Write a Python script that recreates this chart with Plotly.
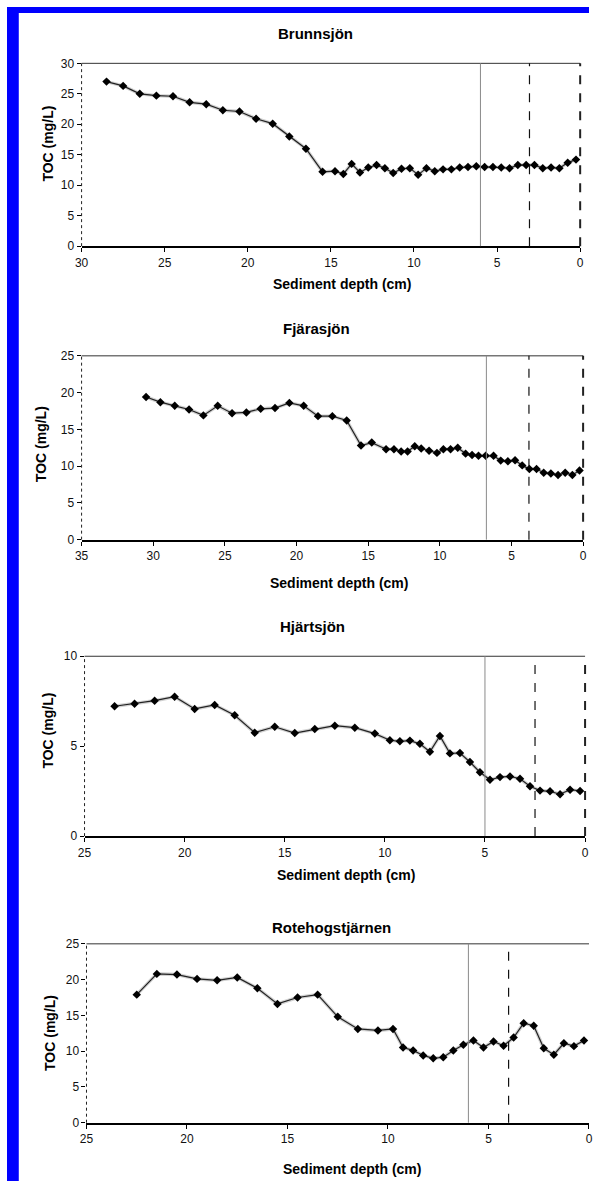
import plotly.graph_objects as go

W, H = 593, 1188

# ---------------- data ----------------
names = ["Brunnsjön", "Fjärasjön", "Hjärtsjön", "Rotehogstjärnen"]

brunn_depth = [28.5, 27.5, 26.5, 25.5, 24.5, 23.5, 22.5, 21.5, 20.5, 19.5, 18.5, 17.5, 16.5, 15.5,
               14.75, 14.25, 13.75, 13.25, 12.75, 12.25, 11.75, 11.25, 10.75, 10.25, 9.75, 9.25,
               8.75, 8.25, 7.75, 7.25, 6.75, 6.25, 5.75, 5.25, 4.75, 4.25, 3.75, 3.25, 2.75, 2.25,
               1.75, 1.25, 0.75, 0.25]
brunn_toc = [27.0, 26.3, 25.0, 24.7, 24.6, 23.6, 23.3, 22.3, 22.1, 20.9, 20.1, 18.0, 16.0, 12.2,
             12.3, 11.85, 13.5, 12.1, 12.9, 13.3, 12.8, 12.0, 12.7, 12.8, 11.7, 12.8,
             12.3, 12.6, 12.6, 12.9, 13.0, 13.1, 13.0, 13.0, 12.9, 12.8, 13.3, 13.3, 13.3, 12.8,
             12.9, 12.8, 13.7, 14.2]

fjara_depth = [30.5, 29.5, 28.5, 27.5, 26.5, 25.5, 24.5, 23.5, 22.5, 21.5, 20.5, 19.5, 18.5, 17.5,
               16.5, 15.5, 14.75, 13.75, 13.2, 12.7, 12.25, 11.75, 11.3, 10.75, 10.2, 9.75, 9.25,
               8.75, 8.2, 7.75, 7.3, 6.8, 6.25, 5.75, 5.25, 4.75, 4.25, 3.75, 3.25, 2.75, 2.25,
               1.75, 1.25, 0.75, 0.25]
fjara_toc = [19.4, 18.7, 18.2, 17.7, 16.9, 18.2, 17.2, 17.3, 17.8, 17.9, 18.6, 18.2, 16.8, 16.8,
             16.2, 12.8, 13.2, 12.3, 12.3, 12.0, 12.0, 12.7, 12.4, 12.1, 11.8, 12.3, 12.3,
             12.5, 11.7, 11.5, 11.4, 11.4, 11.4, 10.75, 10.65, 10.8, 10.1, 9.6, 9.6, 9.1, 9.0,
             8.8, 9.1, 8.8, 9.4]

hjart_depth = [23.5, 22.5, 21.5, 20.5, 19.5, 18.5, 17.5, 16.5, 15.5, 14.5, 13.5, 12.5, 11.5, 10.5,
               9.75, 9.25, 8.75, 8.25, 7.75, 7.25, 6.75, 6.25, 5.75, 5.25, 4.75, 4.25, 3.75, 3.25,
               2.75, 2.25, 1.75, 1.25, 0.75, 0.25]
hjart_toc = [7.22, 7.36, 7.53, 7.75, 7.07, 7.29, 6.72, 5.75, 6.08, 5.73, 5.95, 6.14, 6.03, 5.7,
             5.33, 5.27, 5.31, 5.13, 4.69, 5.57, 4.6, 4.62, 4.12, 3.55, 3.13, 3.28, 3.32, 3.19,
             2.77, 2.53, 2.49, 2.33, 2.58, 2.51]

rote_depth = [22.5, 21.5, 20.5, 19.5, 18.5, 17.5, 16.5, 15.5, 14.5, 13.5, 12.5, 11.5, 10.5,
              9.75, 9.25, 8.75, 8.25, 7.75, 7.25, 6.75, 6.25, 5.75, 5.25, 4.75, 4.25, 3.75, 3.25,
              2.75, 2.25, 1.75, 1.25, 0.75, 0.25]
rote_toc = [17.9, 20.8, 20.7, 20.1, 19.9, 20.3, 18.8, 16.6, 17.5, 17.9, 14.8, 13.1, 12.9,
            13.1, 10.5, 10.1, 9.4, 9.0, 9.15, 10.1, 10.9, 11.5, 10.5, 11.35, 10.75, 11.9, 13.9,
            13.55, 10.4, 9.5, 11.1, 10.7, 11.5]

depths = [brunn_depth, fjara_depth, hjart_depth, rote_depth]
tocs = [brunn_toc, fjara_toc, hjart_toc, rote_toc]

x_max = [30, 35, 25, 25]
y_max = [30, 25, 10, 25]
y_step = [5, 5, 5, 5]
solid_line_depth = [6, 6.75, 5, 6]
dashed_line_depth = [3.05, 3.78, 2.5, 4]

x_title = "Sediment depth (cm)"
y_title = "TOC (mg/L)"

# ---------------- layout geometry (pixels) ----------------
boxes = [  # left, right, top, bottom
    (76, 584, 57, 242),
    (76, 587, 353, 539),
    (79, 589, 657, 839),
    (81, 593, 948, 1129),
]
title_pos = [(314, 27), (315, 325), (311, 627), (331, 931)]
xlab_pos = [(341, 280), (338, 583), (345, 878), (352, 1176)]
ylab_pos = [(42, 138), (34, 442), (42, 732), (44, 1038)]

FONT = "Liberation Sans, Arial, sans-serif"

fig = go.Figure()
layout = dict(
    width=W, height=H,
    margin=dict(l=0, r=0, t=0, b=0),
    paper_bgcolor="white", plot_bgcolor="white",
    showlegend=False,
    font=dict(family=FONT, color="black"),
)
shapes = []
annotations = []

# blue frame
shapes.append(dict(type="rect", xref="paper", yref="paper", x0=0, x1=12 / W, y0=0, y1=1,
                   fillcolor="#0000FF", line=dict(width=0)))
shapes.append(dict(type="rect", xref="paper", yref="paper", x0=0, x1=1, y0=1 - 6 / H, y1=1,
                   fillcolor="#0000FF", line=dict(width=0)))

for i in range(4):
    k = "" if i == 0 else str(i + 1)
    xa, ya = "x" + k, "y" + k
    l, r, t, b = boxes[i]
    # shadow line
    fig.add_trace(go.Scatter(x=depths[i], y=tocs[i], mode="lines", xaxis=xa, yaxis=ya,
                             line=dict(color="rgba(0,0,0,0.18)", width=3.5), hoverinfo="skip"))
    fig.add_trace(go.Scatter(x=depths[i], y=tocs[i], mode="lines+markers", xaxis=xa, yaxis=ya,
                             line=dict(color="#222222", width=1.2),
                             marker=dict(symbol="diamond", size=6.5, color="black"),
                             cliponaxis=False))
    layout["xaxis" + k] = dict(
        domain=[l / W, r / W], anchor=ya, range=[x_max[i], 0],
        tickmode="array", tickvals=list(range(0, x_max[i] + 1, 5)),
        showline=True, linecolor="black", linewidth=2, mirror=False,
        ticks="outside", ticklen=4, tickcolor="black", tickwidth=1,
        showgrid=False, zeroline=False,
        ticklabeloverflow="allow",
        tickfont=dict(family=FONT, size=12, color="#111"),
    )
    layout["yaxis" + k] = dict(
        domain=[1 - b / H, 1 - t / H], anchor=xa, range=[0, y_max[i]],
        tickmode="array", tickvals=list(range(0, y_max[i] + 1, y_step[i])),
        showline=False, ticks="outside", ticklen=4, tickcolor="black", tickwidth=1,
        showgrid=False, zeroline=False,
        tickfont=dict(family=FONT, size=12, color="#111"),
    )
    xd, yd = xa + " domain", ya + " domain"
    # top border
    shapes.append(dict(type="line", xref=xd, yref=yd, x0=0, x1=1, y0=1, y1=1,
                       line=dict(color="#333", width=1)))
    # right border (dashed) - the last panel's border lies past the picture edge
    if i < 3:
        shapes.append(dict(type="line", xref=xd, yref=yd, x0=1, x1=1, y0=0, y1=1,
                           line=dict(color="#222", width=2, dash="dash")))
    # left axis line (dotted)
    shapes.append(dict(type="line", xref=xd, yref=yd, x0=0, x1=0, y0=0, y1=1,
                       line=dict(color="#222", width=1, dash="dot")))
    # reference lines
    shapes.append(dict(type="line", xref=xa, yref=yd, x0=solid_line_depth[i], x1=solid_line_depth[i],
                       y0=0, y1=1, line=dict(color="#8a8a8a", width=1)))
    shapes.append(dict(type="line", xref=xa, yref=yd, x0=dashed_line_depth[i], x1=dashed_line_depth[i],
                       y0=0, y1=1, line=dict(color="#111", width=1.2, dash="dash")))

    tx, ty = title_pos[i]
    annotations.append(dict(text="<b>%s</b>" % names[i], xref="paper", yref="paper",
                            x=tx / W, y=1 - ty / H, xanchor="center", yanchor="middle",
                            showarrow=False, font=dict(family=FONT, size=15, color="black")))
    lx, ly = xlab_pos[i]
    annotations.append(dict(text="<b>%s</b>" % x_title, xref="paper", yref="paper",
                            x=lx / W, y=1 - ly / H, xanchor="center", yanchor="middle",
                            showarrow=False, font=dict(family=FONT, size=14, color="black")))
    vx, vy = ylab_pos[i]
    annotations.append(dict(text="<b>%s</b>" % y_title, xref="paper", yref="paper",
                            x=vx / W, y=1 - vy / H, xanchor="center", yanchor="middle",
                            textangle=-90, showarrow=False,
                            font=dict(family=FONT, size=14, color="black")))

layout["shapes"] = shapes
layout["annotations"] = annotations
fig.update_layout(**layout)
fig.write_html("out.html", config={"displayModeBar": False},
               post_script="document.body.style.margin='0';document.body.style.overflow='hidden';")
